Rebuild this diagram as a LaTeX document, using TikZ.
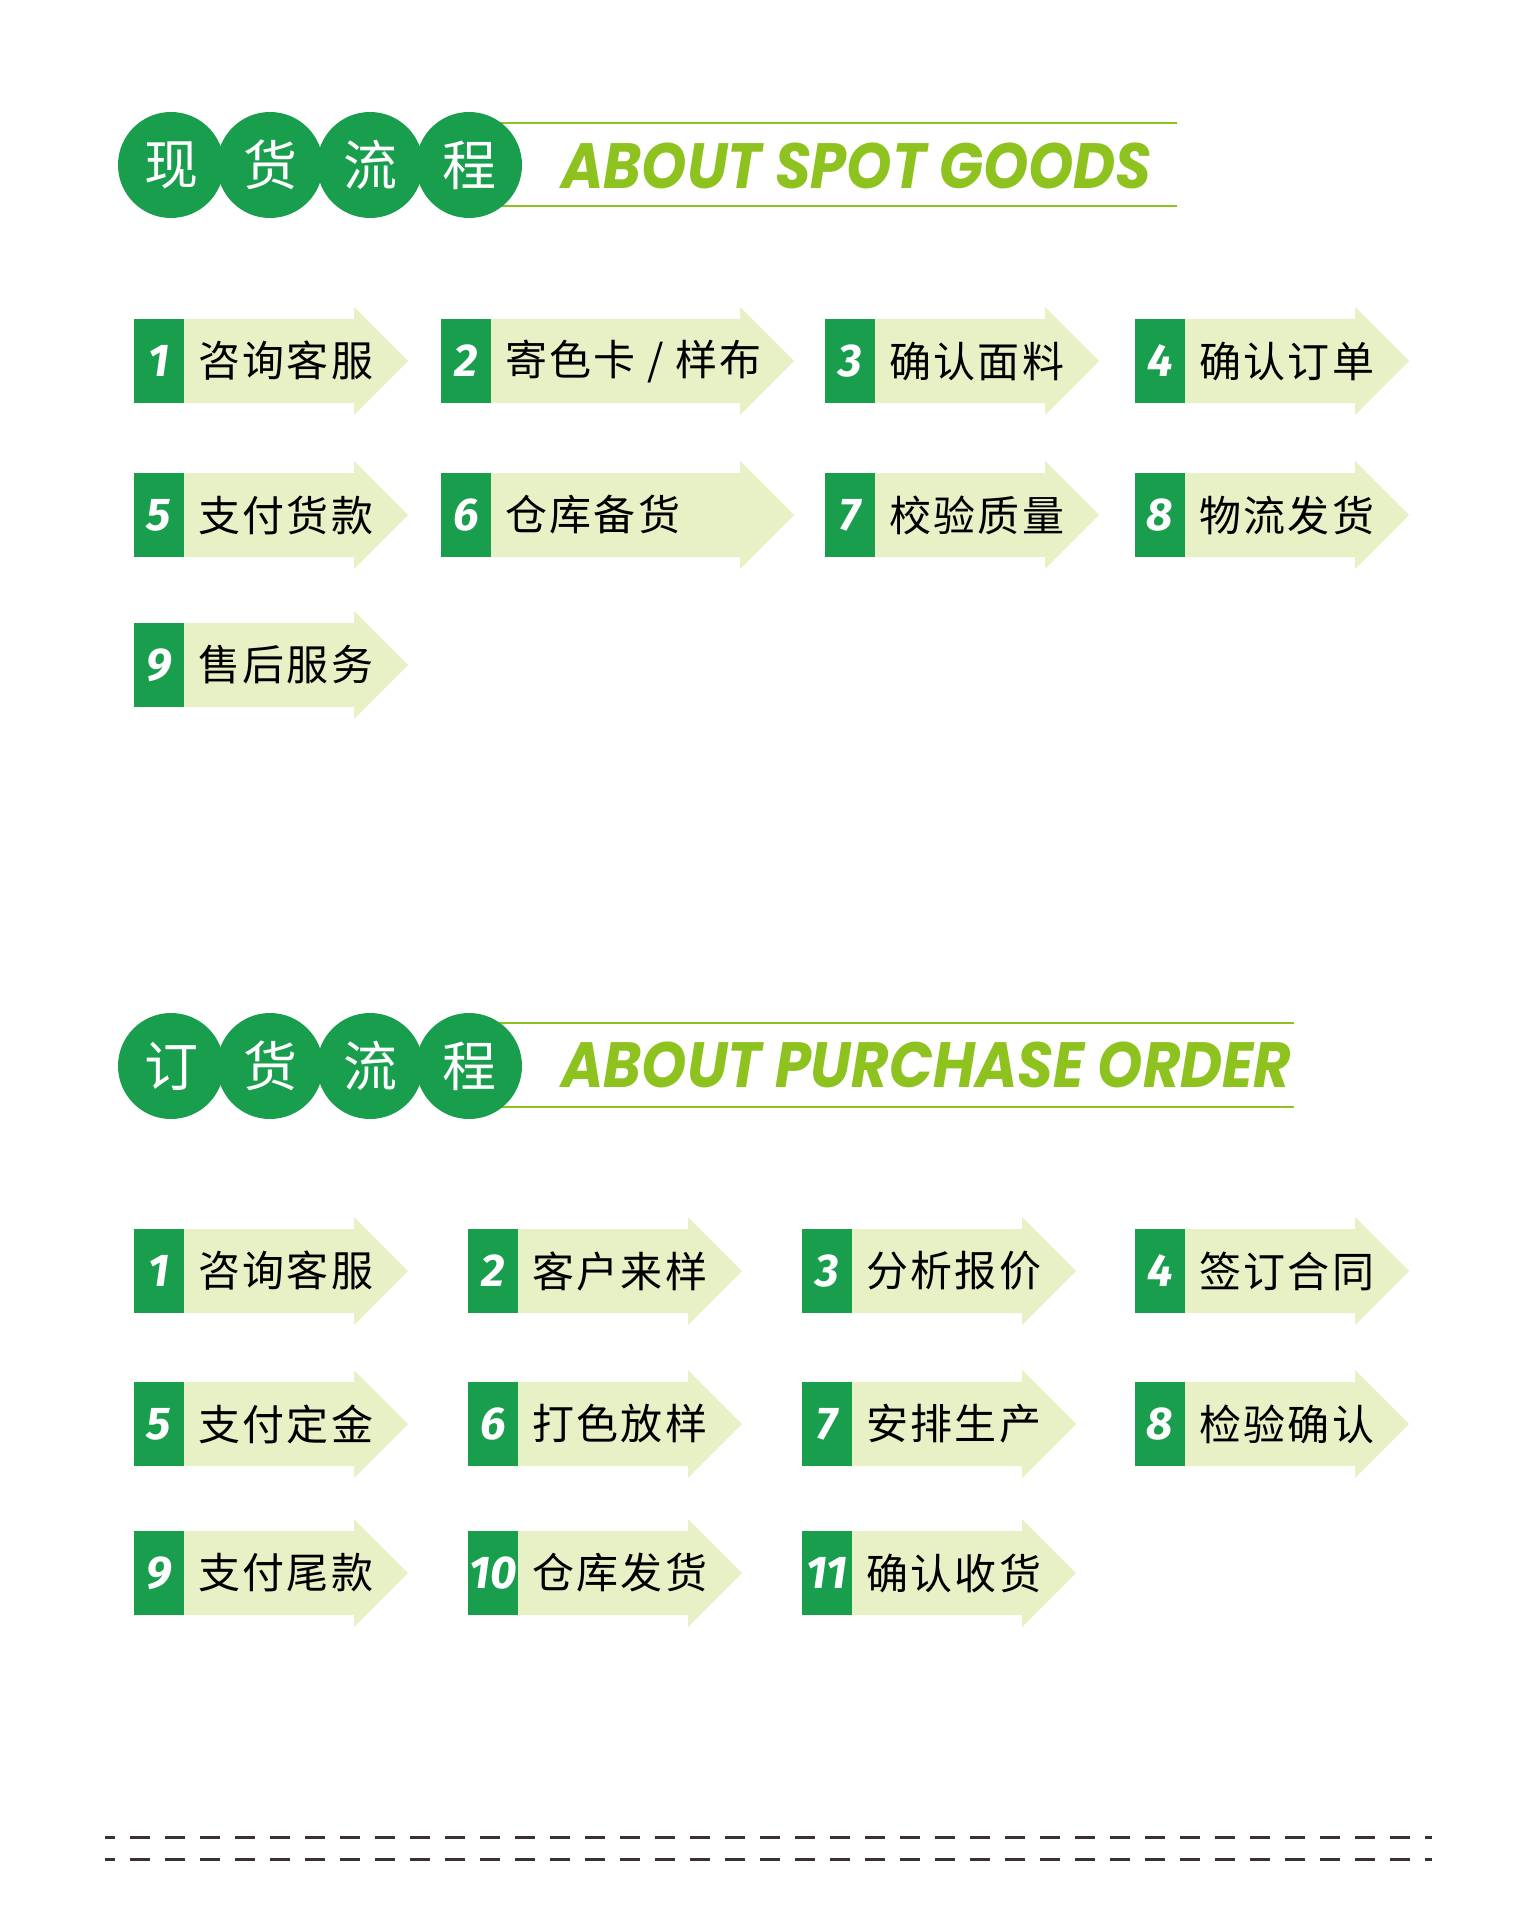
\documentclass[tikz,border=0pt]{standalone}
\usepackage{fontspec}
\usetikzlibrary{positioning}
\newfontfamily\cjk{Noto Sans CJK SC}
\newfontfamily\cjkwide{Noto Sans CJK SC}[LetterSpace=5]
\newfontfamily\headfont{Poppins}[FakeStretch=0.9]
\newfontfamily\numfont{Fira Sans}
\definecolor{dkgreen}{RGB}{24,158,76}
\definecolor{lime}{RGB}{141,194,31}
\definecolor{paleleaf}{RGB}{232,240,198}
\definecolor{dashgray}{RGB}{58,50,50}

\begin{document}
\begin{tikzpicture}
[x=0.5pt, y=-0.5pt,
bubble/.style = {circle, fill=dkgreen, minimum size=53pt, inner sep=0pt, text=white,
                 font=\cjk\fontsize{27pt}{27pt}\selectfont},
rule/.style = {draw=lime, line width=1.2pt},
headline/.style = {anchor=west, inner sep=0pt, text=lime,
                   font=\headfont\bfseries\itshape\fontsize{32pt}{32pt}\selectfont},
arrowbody/.style = {fill=paleleaf},
numbox/.style = {rectangle, fill=dkgreen, minimum width=25pt, minimum height=42pt, inner sep=0pt,
                 text=white, font=\numfont\bfseries\itshape\fontsize{23pt}{23pt}\selectfont},
steplabel/.style = {anchor=west, inner sep=0pt, font=\cjkwide\fontsize{21pt}{21pt}\selectfont},
cutline/.style = {draw=dashgray, line width=1.5pt, dash pattern=on 10pt off 7.5pt, dash phase=5pt}]
\useasboundingbox (0,0) rectangle (1534,1920);

% headings
\draw[rule] (498,123) -- (1177,123) (498,206) -- (1177,206);
\draw[rule] (498,1023) -- (1294,1023) (498,1107) -- (1294,1107);
\foreach \c/\s/\o [count=\i] in {171/现/订, 270/货/货, 370/流/流, 469/程/程} {
  \node[bubble] (s-ball-\i) at (\c,165) {\s};
  \node[bubble] (p-ball-\i) at (\c,1066) {\o};
}
\node[headline] (s-title) at (561,166) {ABOUT SPOT GOODS};
\node[headline] (p-title) at (561,1065) {ABOUT PURCHASE ORDER};

% steps
\foreach \x/\y/\l/\n/\t/\p in {
  134/361/274/1/咨询客服/s, 441/361/353/2/{寄色卡 / 样布}/s, 825/361/274/3/确认面料/s, 1135/361/274/4/确认订单/s,
  134/515/274/5/支付货款/s, 441/515/353/6/仓库备货/s, 825/515/274/7/校验质量/s, 1135/515/274/8/物流发货/s,
  134/665/274/9/售后服务/s,
  134/1271/274/1/咨询客服/p, 468/1271/274/2/客户来样/p, 802/1271/274/3/分析报价/p, 1135/1271/274/4/签订合同/p,
  134/1424/274/5/支付定金/p, 468/1424/274/6/打色放样/p, 802/1424/274/7/安排生产/p, 1135/1424/274/8/检验确认/p,
  134/1573/274/9/支付尾款/p, 468/1573/274/10/仓库发货/p, 802/1573/274/11/确认收货/p} {
  \fill[arrowbody] (\x,\y-42) -- (\x+\l-54,\y-42) -- (\x+\l-54,\y-54) -- (\x+\l,\y)
    -- (\x+\l-54,\y+54) -- (\x+\l-54,\y+42) -- (\x,\y+42) -- cycle;
  \node[numbox] (\p-num-\n) at (\x+25,\y) {\n};
  \node[steplabel, right=7pt of \p-num-\n] (\p-lab-\n) {\t};
}

\draw[cutline] (105,1837) -- (1432,1837) (105,1859) -- (1432,1859);
\end{tikzpicture}
\end{document}
